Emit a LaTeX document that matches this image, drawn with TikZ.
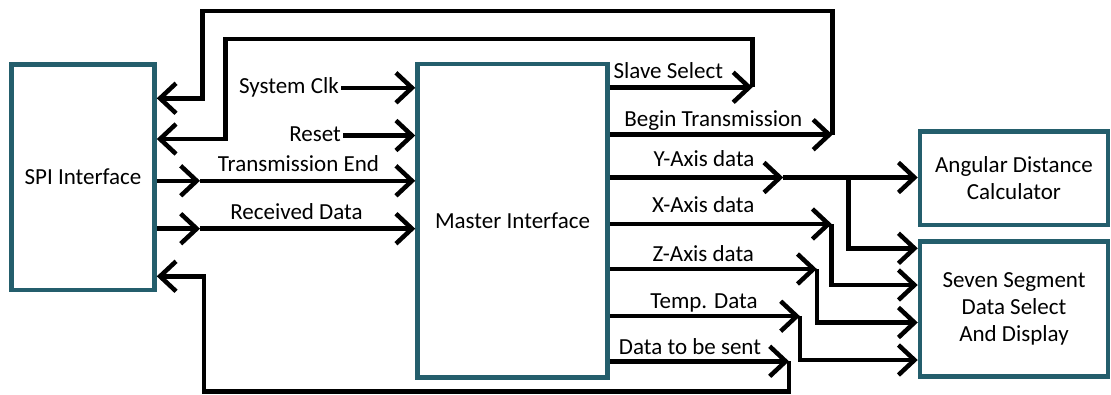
\documentclass[tikz,border=0pt]{standalone}
\usepackage{fontspec}
\setmainfont{Carlito}
\usetikzlibrary{arrows.meta}
\definecolor{boxteal}{HTML}{245E6C}
\begin{document}
\begin{tikzpicture}[x=1pt,y=-1pt,
  every node/.style={font=\fontsize{23}{27.3}\selectfont},
  blockbox/.style={draw=boxteal,line width=4.5pt,fill=white,align=center,inner sep=0pt},
  wire/.style={line width=4.5pt,line join=miter},
  arr/.style={wire,-{Straight Barb[length=16pt,width=30pt]}},
  lbl/.style={inner sep=0pt,anchor=base},
  inlbl/.style={inner xsep=2pt,inner ysep=0pt,anchor=east,text height=16pt,text depth=5pt}]
\useasboundingbox (0,0) rectangle (1111,394);

% blocks
\node[blockbox,minimum width=143pt,minimum height=225.5pt] (spi) at (83,177) {SPI Interface};
\node[blockbox,minimum width=190pt,minimum height=313.5pt] (mst) at (512.5,220.75) {Master Interface};
\node[blockbox,minimum width=188pt,minimum height=93.5pt] (adc) at (1014,178) {Angular Distance\\Calculator};
\node[blockbox,minimum width=188pt,minimum height=135pt] (ssd) at (1014,309) {Seven Segment\\Data Select\\And Display};

% external inputs of the master interface
\node[inlbl] (clk) at (341,87.8) {System Clk};
\node[inlbl] (rst) at (343,135.5) {Reset};
\draw[arr] (clk.east) -- (mst.west |- clk.east);
\draw[arr] (rst.east) -- (mst.west |- rst.east);

% SPI -> master
\coordinate (te) at (200,180.8);
\coordinate (rd) at (200,228.7);
\draw[arr] (spi.east |- te) -- (te);
\draw[arr] (te) -- (mst.west |- te);
\draw[arr] (spi.east |- rd) -- (rd);
\draw[arr] (rd) -- (mst.west |- rd);
\node[lbl] (tel) at (298.5,171.7) {Transmission End};
\node[lbl] (rdl) at (296.5,219.3) {Received Data};

% master -> SPI feedback loops
\coordinate (ss) at (752.5,87.3);
\coordinate (sstop) at (752.5,39);
\coordinate (ssin) at (225.5,139);
\draw[arr] (mst.east |- ss) -- (ss);
\draw[arr] (ss) -- (sstop) -| (ssin) -- (spi.east |- ssin);

\coordinate (bt) at (832.5,134.7);
\coordinate (bttop) at (832.5,10.8);
\coordinate (btin) at (202.5,98.3);
\draw[arr] (mst.east |- bt) -- (bt);
\draw[arr] (bt) -- (bttop) -| (btin) -- (spi.east |- btin);

\coordinate (ds) at (789,361.3);
\coordinate (dsbot) at (789,391.3);
\coordinate (dsin) at (204,276.3);
\draw[arr] (mst.east |- ds) -- (ds);
\draw[arr] (ds) -- (dsbot) -| (dsin) -- (spi.east |- dsin);

\node[lbl] (ssl) at (668.3,78.3) {Slave Select};
\node[lbl] (btl) at (713.3,126) {Begin Transmission};
\node[lbl] (dsl) at (690,354.3) {Data to be sent};

% sensor data outputs
\coordinate (ym) at (783.3,177.5);
\coordinate (yb) at (848.3,177.5);
\coordinate (yin) at (848.3,248.3);
\draw[arr] (mst.east |- ym) -- (ym);
\draw[arr] (ym) -- (adc.west |- ym);
\draw[arr] (yb) -- (yin) -- (ssd.west |- yin);

\coordinate (xm) at (831.7,224);
\coordinate (xin) at (831.7,285);
\draw[arr] (mst.east |- xm) -- (xm);
\draw[arr] (xm) -- (xin) -- (ssd.west |- xin);

\coordinate (zm) at (816.8,269);
\coordinate (zin) at (816.8,322.5);
\draw[arr] (mst.east |- zm) -- (zm);
\draw[arr] (zm) -- (zin) -- (ssd.west |- zin);

\coordinate (tm) at (800,316.2);
\coordinate (tin) at (800,360);
\draw[arr] (mst.east |- tm) -- (tm);
\draw[arr] (tm) -- (tin) -- (ssd.west |- tin);

\node[lbl] (yl) at (704,166.7) {Y-Axis data};
\node[lbl] (xl) at (703.3,212.7) {X-Axis data};
\node[lbl] (zl) at (703.3,261) {Z-Axis data};
\node[lbl] (tl) at (704,308.3) {Temp. Data};
\end{tikzpicture}
\end{document}
